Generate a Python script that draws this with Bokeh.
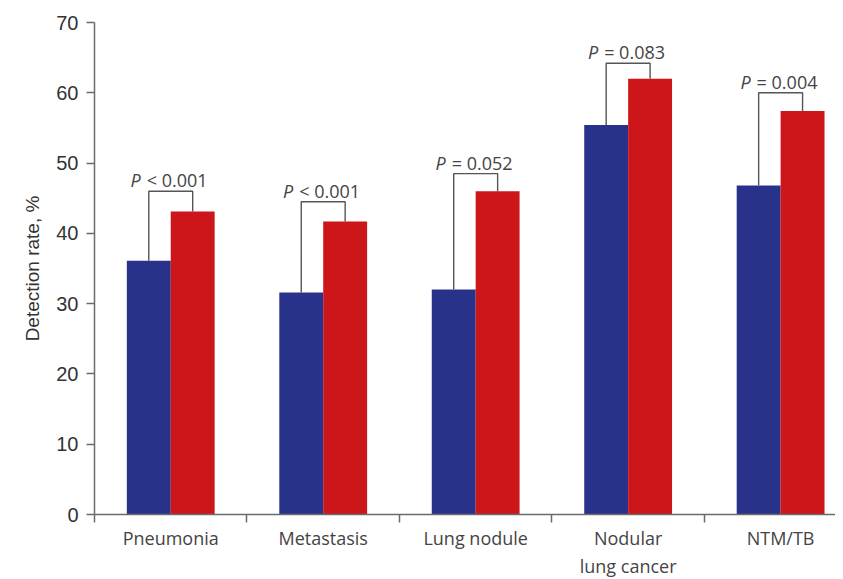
from bokeh.plotting import figure
from bokeh.models import Range1d, FixedTicker, ColumnDataSource
from bokeh.core.properties import value
from bokeh.embed import file_html
from bokeh.resources import INLINE

categories = ["Pneumonia", "Metastasis", "Lung nodule", "Nodular\nlung cancer", "NTM/TB"]
group_a = [36.1, 31.6, 32.0, 55.4, 46.8]   # blue
group_b = [43.1, 41.7, 46.0, 62.0, 57.4]   # red
bracket_top = [46.0, 44.5, 48.5, 64.2, 60.0]
p_sign = ["<", "<", "=", "=", "="]
p_val = ["0.001", "0.001", "0.052", "0.083", "0.004"]
y_ticks = [0, 10, 20, 30, 40, 50, 60, 70]

BLUE = "#28328a"
RED = "#cc161a"
BW = 0.288

n = len(categories)
centers = [i + 0.5 for i in range(n)]
xa = [c - BW / 2 for c in centers]
xb = [c + BW / 2 for c in centers]

p = figure(frame_width=741, frame_height=492, min_border_left=94, min_border_top=22,
           min_border_right=0, min_border_bottom=0,
           x_range=Range1d(0, 4.86), y_range=Range1d(0, 70),
           output_backend="svg", toolbar_location=None, tools="")
p.outline_line_color = None
p.grid.visible = False
p.background_fill_color = "white"

p.vbar(x=xa, top=group_a, width=BW, bottom=0, fill_color=BLUE, line_color=None)
p.vbar(x=xb, top=group_b, width=BW, bottom=0, fill_color=RED, line_color=None)

xs = [[a, a, b, b] for a, b in zip(xa, xb)]
ys = [[ya, t, t, yb] for ya, yb, t in zip(group_a, group_b, bracket_top)]
p.multi_line(xs=xs, ys=ys, line_color="#555555", line_width=1.4)

src = ColumnDataSource(dict(x=centers, y=bracket_top,
                            p=["P"] * n,
                            rest=[f"{s} {v}" for s, v in zip(p_sign, p_val)]))
p.text(x="x", y="y", text="p", source=src, x_offset=-30, y_offset=-11,
       text_align="right", text_baseline="alphabetic",
       text_font=value("Open Sans"), text_font_style="italic",
       text_font_size="18px", text_color="#444444")
p.text(x="x", y="y", text="rest", source=src, x_offset=-24, y_offset=-11,
       text_align="left", text_baseline="alphabetic",
       text_font=value("Open Sans"), text_font_size="18px", text_color="#444444")

# x axis
xa_ = p.xaxis[0]
xa_.ticker = FixedTicker(ticks=centers, minor_ticks=list(range(n + 1)))
xa_.major_label_overrides = {c: lab for c, lab in zip(centers, categories)}
xa_.major_tick_out = 0
xa_.major_tick_in = 0
xa_.minor_tick_out = 8
xa_.minor_tick_in = 0
xa_.minor_tick_line_color = "#6b6b6b"
xa_.minor_tick_line_width = 1.5
xa_.axis_line_color = "#6b6b6b"
xa_.axis_line_width = 1.5
xa_.major_label_text_font = "Open Sans"
xa_.major_label_text_font_size = "18px"
xa_.major_label_text_color = "#444444"
xa_.major_label_standoff = 3

# y axis
ya_ = p.yaxis[0]
ya_.ticker = FixedTicker(ticks=y_ticks, minor_ticks=[])
ya_.major_tick_out = 8
ya_.major_tick_in = 0
ya_.major_tick_line_color = "#6b6b6b"
ya_.major_tick_line_width = 1.5
ya_.axis_line_color = "#6b6b6b"
ya_.axis_line_width = 1.5
ya_.major_label_text_font = "Liberation Sans"
ya_.major_label_text_font_size = "20px"
ya_.major_label_text_color = "#333333"
ya_.major_label_standoff = 8
ya_.axis_label = "Detection rate, %"
ya_.axis_label_text_font = "Liberation Sans"
ya_.axis_label_text_font_size = "19px"
ya_.axis_label_text_font_style = "normal"
ya_.axis_label_text_color = "#333333"
ya_.axis_label_standoff = 10

open("out.html", "w").write(file_html(p, INLINE))
